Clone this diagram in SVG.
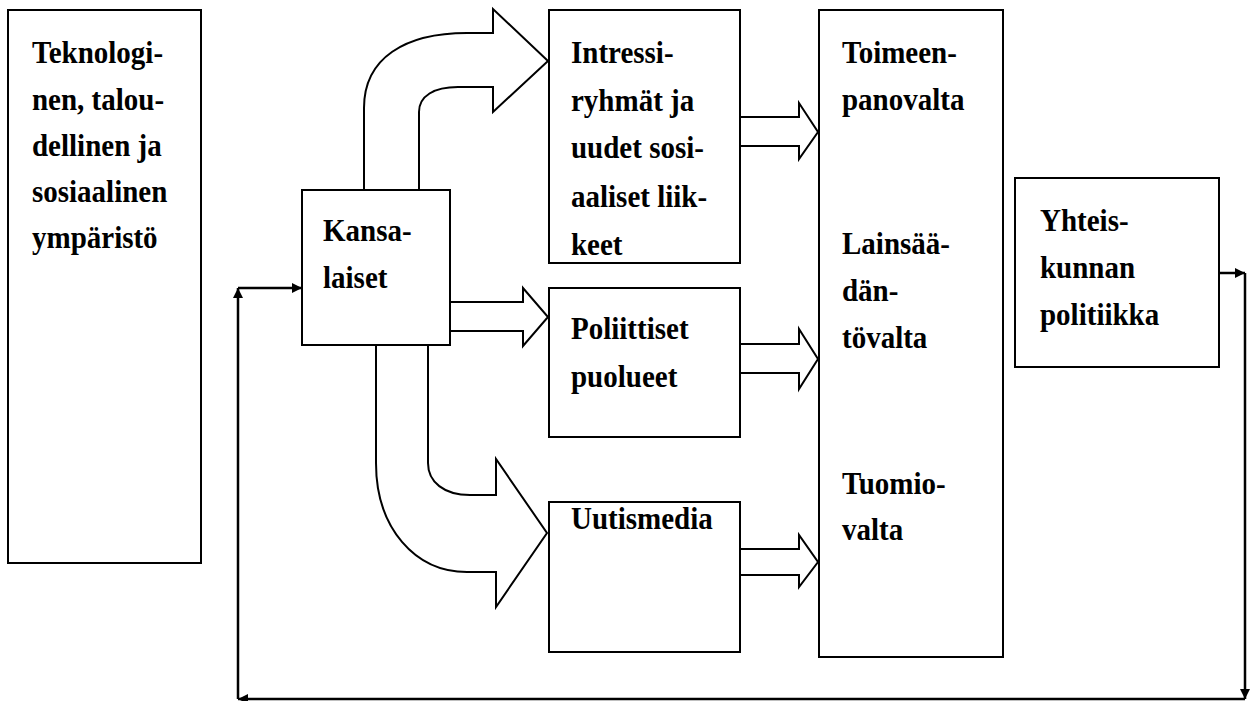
<svg xmlns="http://www.w3.org/2000/svg" width="1257" height="701" viewBox="0 0 1257 701">
<defs>
<style>
.box{fill:#fff;stroke:#000;stroke-width:2}
.blk{fill:#fff;stroke:#000;stroke-width:2;stroke-linejoin:miter}
.fb{fill:none;stroke:#000;stroke-width:2.5}
.t{font-family:"Liberation Serif","Times New Roman","DejaVu Serif",serif;font-weight:bold;font-size:29px;fill:#000}
</style>
<marker id="ah" viewBox="0 0 10 10" refX="10" refY="5" markerWidth="4" markerHeight="4" orient="auto" markerUnits="strokeWidth">
<path d="M0,0 L10,5 L0,10 Z" fill="#000"/>
</marker>
</defs>
<rect width="1257" height="701" fill="#fff"/>

<g id="ymparisto">
<rect class="box" x="8" y="10" width="193" height="553"/>
<g class="t" font-family="Liberation Serif, serif">
<text transform="translate(32,63) scale(1,1.08)">Teknologi-</text>
<text transform="translate(32,110) scale(1,1.08)">nen, talou-</text>
<text transform="translate(32,156) scale(1,1.08)">dellinen ja</text>
<text transform="translate(32,202) scale(1,1.08)">sosiaalinen</text>
<text transform="translate(32,248) scale(1,1.08)">ympäristö</text>
</g>
</g>

<g id="connectors">
<path class="blk" d="M364,190 V108 C364,58 405,33 467,33 H493 V9 L548,61 L493,112 V87 H458 C434,87 419,96 419,112 V190"/>
<path class="blk" d="M376,345 V463 C376,528 415,572 467,572 H496 V607 L547,533 L496,459 V495 H470 C444,495 428,482 428,463 V345"/>
<path class="blk" d="M450,302 H523 V288 L548,317 L523,346 V331 H450"/>
<path class="blk" d="M740,117 H799 V103 L818,132 L799,159 V146 H740"/>
<path class="blk" d="M740,344 H799 V329 L818,359 L799,389 V373 H740"/>
<path class="blk" d="M740,549 H799 V535 L818,562 L799,587 V575 H740"/>
<line class="fb" x1="1219" y1="273" x2="1245" y2="273" marker-end="url(#ah)"/>
<line class="fb" x1="1245" y1="273" x2="1245" y2="699" marker-end="url(#ah)"/>
<line class="fb" x1="1245" y1="699" x2="238" y2="699" marker-end="url(#ah)"/>
<line class="fb" x1="238" y1="699" x2="238" y2="288" marker-end="url(#ah)"/>
<line class="fb" x1="238" y1="288" x2="302" y2="288" marker-end="url(#ah)"/>
</g>

<g id="kansalaiset">
<rect class="box" x="302" y="190" width="148" height="155"/>
<g class="t" font-family="Liberation Serif, serif">
<text transform="translate(323,241) scale(1,1.08)">Kansa-</text>
<text transform="translate(323,288) scale(1,1.08)">laiset</text>
</g>
</g>

<g id="intressiryhmat">
<rect class="box" x="549" y="10" width="191" height="253"/>
<g class="t" font-family="Liberation Serif, serif">
<text transform="translate(571,63) scale(1,1.08)">Intressi-</text>
<text transform="translate(571,111) scale(1,1.08)">ryhmät ja</text>
<text transform="translate(571,158) scale(1,1.08)">uudet sosi-</text>
<text transform="translate(571,207) scale(1,1.08)">aaliset liik-</text>
<text transform="translate(571,255) scale(1,1.08)">keet</text>
</g>
</g>

<g id="puolueet">
<rect class="box" x="549" y="288" width="191" height="149"/>
<g class="t" font-family="Liberation Serif, serif">
<text transform="translate(571,339) scale(1,1.08)">Poliittiset</text>
<text transform="translate(571,387) scale(1,1.08)">puolueet</text>
</g>
</g>

<g id="uutismedia">
<rect class="box" x="549" y="502" width="191" height="150"/>
<g class="t" font-family="Liberation Serif, serif">
<text transform="translate(571,529) scale(1,1.08)">Uutismedia</text>
</g>
</g>

<g id="valta">
<rect class="box" x="819" y="10" width="184" height="647"/>
<g class="t" font-family="Liberation Serif, serif">
<text transform="translate(842,63) scale(1,1.08)">Toimeen-</text>
<text transform="translate(842,110) scale(1,1.08)">panovalta</text>
<text transform="translate(842,254) scale(1,1.08)">Lainsää-</text>
<text transform="translate(842,301) scale(1,1.08)">dän-</text>
<text transform="translate(842,348) scale(1,1.08)">tövalta</text>
<text transform="translate(842,494) scale(1,1.08)">Tuomio-</text>
<text transform="translate(842,540) scale(1,1.08)">valta</text>
</g>
</g>

<g id="politiikka">
<rect class="box" x="1015" y="178" width="204" height="189"/>
<g class="t" font-family="Liberation Serif, serif">
<text transform="translate(1040,231) scale(1,1.08)">Yhteis-</text>
<text transform="translate(1040,278) scale(1,1.08)">kunnan</text>
<text transform="translate(1040,325) scale(1,1.08)">politiikka</text>
</g>
</g>
</svg>
